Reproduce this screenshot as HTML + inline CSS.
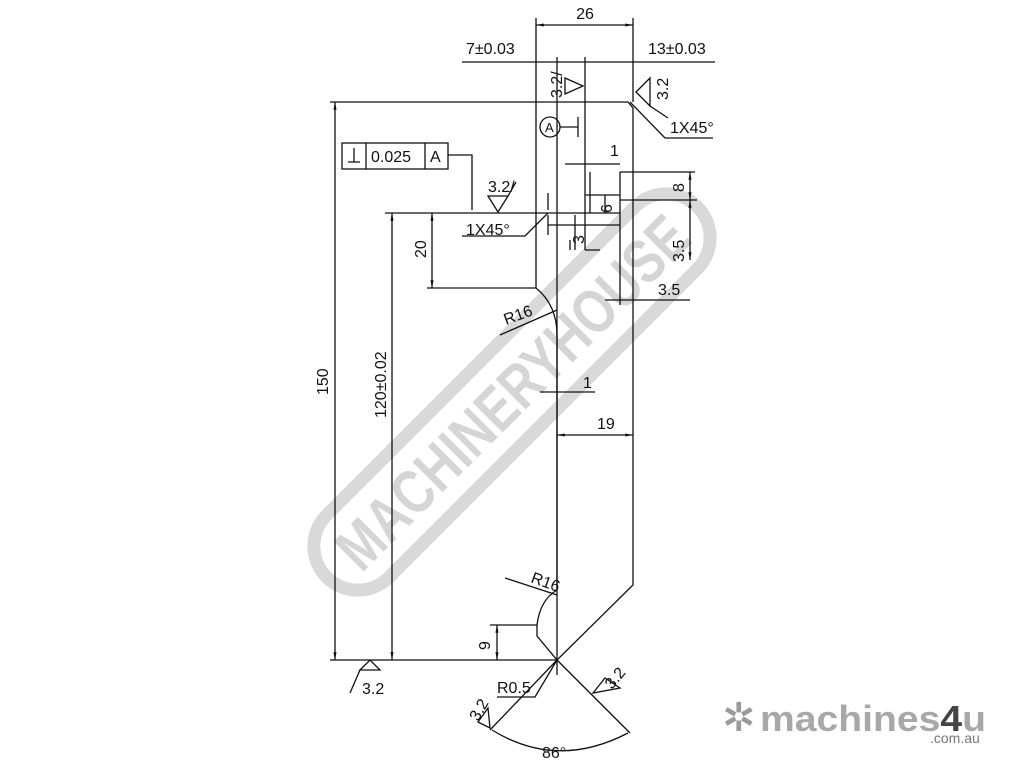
<!DOCTYPE html>
<html><head><meta charset="utf-8"><style>
html,body{margin:0;padding:0;background:#fff;}
svg{display:block}
text{font-family:"Liberation Sans",sans-serif;fill:#111}
</style></head><body>
<svg width="1024" height="768" viewBox="0 0 1024 768" xmlns="http://www.w3.org/2000/svg">
<defs>
<marker id="a" viewBox="0 0 10 10" refX="10" refY="5" markerWidth="6" markerHeight="6" orient="auto-start-reverse"><path d="M0,3L10,5L0,7z" fill="#111"/></marker>
</defs>
<!-- watermark -->
<g transform="translate(512,392) rotate(-45)" opacity="0.22">
<rect x="-262" y="-44" width="524" height="88" rx="44" fill="none" stroke="#555" stroke-width="13"/>
<text x="0" y="22" text-anchor="middle" font-size="62" font-weight="bold" textLength="470" lengthAdjust="spacingAndGlyphs" style="fill:#444">MACHINERYHOUSE</text>
</g>
<g stroke="#111" stroke-width="1.3" fill="none">
<path d="M330,102 H628 L633,108 V585 L557,660 L537,636 V625 M537,625 Q540,600 557,590 M557,335 V590 M536,102 V288 Q557,305 557,335"/>
<path d="M330,660 H557"/>
<path d="M385,213 H620"/>
<path d="M557,57 V675 M585,57 V250 M536,18 V102 M633,18 V102"/>
<path d="M462,62 H715"/>
<path d="M620,172 H695 M620,172 V305 M620,200 H697 M585,195 H620 M590,172 V213 M548,225 H620"/>
<path d="M585,250 H600 M570,240 V250 M575,215 V250"/>
<path d="M536,25 H633" marker-start="url(#a)" marker-end="url(#a)"/>
<path d="M335,102 V660" marker-start="url(#a)" marker-end="url(#a)"/>
<path d="M392,213 V660" marker-start="url(#a)" marker-end="url(#a)"/>
<path d="M432,213 V288" marker-start="url(#a)" marker-end="url(#a)"/>
<path d="M427,288 H536"/>
<path d="M497,625 V660" marker-start="url(#a)" marker-end="url(#a)"/>
<path d="M490,625 H537"/>
<path d="M690,172 V200" marker-start="url(#a)" marker-end="url(#a)"/>
<path d="M690,200 V260" marker-start="url(#a)" marker-end="url(#a)"/>
<path d="M605,300 H690"/>
<path d="M557,435 H633" marker-start="url(#a)" marker-end="url(#a)"/>
<path d="M540,392 H595"/>
<path d="M565,164 H620"/>
<path d="M548,193 V210 M548,215 V235"/>
<path d="M605,195 V213"/>
<path d="M630,102 L665,138 H713"/>
<path d="M548,213 L525,236 H462"/>
<path d="M448,155 H472 V210"/>
<path d="M500,335 L557,310"/>
<path d="M505,578 L557,595"/>
<path d="M497,697 H535 L557,660"/>
<path d="M557,660 L490,730 M557,660 L630,733"/>
<path d="M492,730 Q557,770 628,733"/>
<path d="M565,78 L583,86 L565,94 Z M636,92 L650,78 L650,106 Z M650,106 L668,118"/>
<path d="M488,196 H508 L498,212 Z M508,196 L516,182"/>
<path d="M360,670 L370,660 L380,670 Z M360,670 L350,693"/>
<path d="M478,722 L488,708 L490,728 Z M593,693 L605,678 L620,688 Z"/>
<circle cx="550" cy="127" r="10"/>
<path d="M560,127 H578 M578,117 V137"/>
<rect x="342" y="143" width="106" height="26"/>
<path d="M366,143 V169 M425,143 V169"/>
<path d="M348,162 H360 M354,148 V162"/>
</g>
<g font-size="16">
<text x="585" y="19" text-anchor="middle">26</text>
<text x="466" y="54">7±0.03</text>
<text x="648" y="54">13±0.03</text>
<text x="670" y="133">1X45°</text>
<text x="466" y="235">1X45°</text>
<text x="371" y="162">0.025</text>
<text x="430" y="162">A</text>
<text x="545" y="132" font-size="13">A</text>
<text x="488" y="192">3.2/</text>
<text x="610" y="156">1</text>
<text x="583" y="388">1</text>
<text x="597" y="429">19</text>
<text x="658" y="295">3.5</text>
<text x="506" y="325" transform="rotate(-20 506 325)">R16</text>
<text x="530" y="582" transform="rotate(20 530 582)">R16</text>
<text x="497" y="693">R0.5</text>
<text x="542" y="758">86°</text>
<text x="362" y="694">3.2</text>
<text transform="translate(328,395) rotate(-90)">150</text>
<text transform="translate(386,418) rotate(-90)">120±0.02</text>
<text transform="translate(426,258) rotate(-90)">20</text>
<text transform="translate(490,650) rotate(-90)">9</text>
<text transform="translate(684,262) rotate(-90)">3.5</text>
<text transform="translate(684,192) rotate(-90)">8</text>
<text transform="translate(612,213) rotate(-90)">6</text>
<text transform="translate(584,244) rotate(-90)">3</text>
<text transform="translate(562,98) rotate(-90)">3.2/</text>
<text transform="translate(668,100) rotate(-90)">3.2</text>
<text transform="translate(478,722) rotate(-60)">3.2</text>
<text transform="translate(612,690) rotate(-50)">3.2</text>
</g>
<g>
<text x="722" y="731" font-size="40" style="fill:#9a9a9a">✲</text>
<text x="760" y="731" font-size="36" font-weight="bold" textLength="226" lengthAdjust="spacingAndGlyphs" style="fill:#a8a8a8">machines<tspan style="fill:#444">4</tspan>u</text>
<text x="930" y="743" font-size="14" style="fill:#777">.com.au</text>
</g>
</svg>
</body></html>
